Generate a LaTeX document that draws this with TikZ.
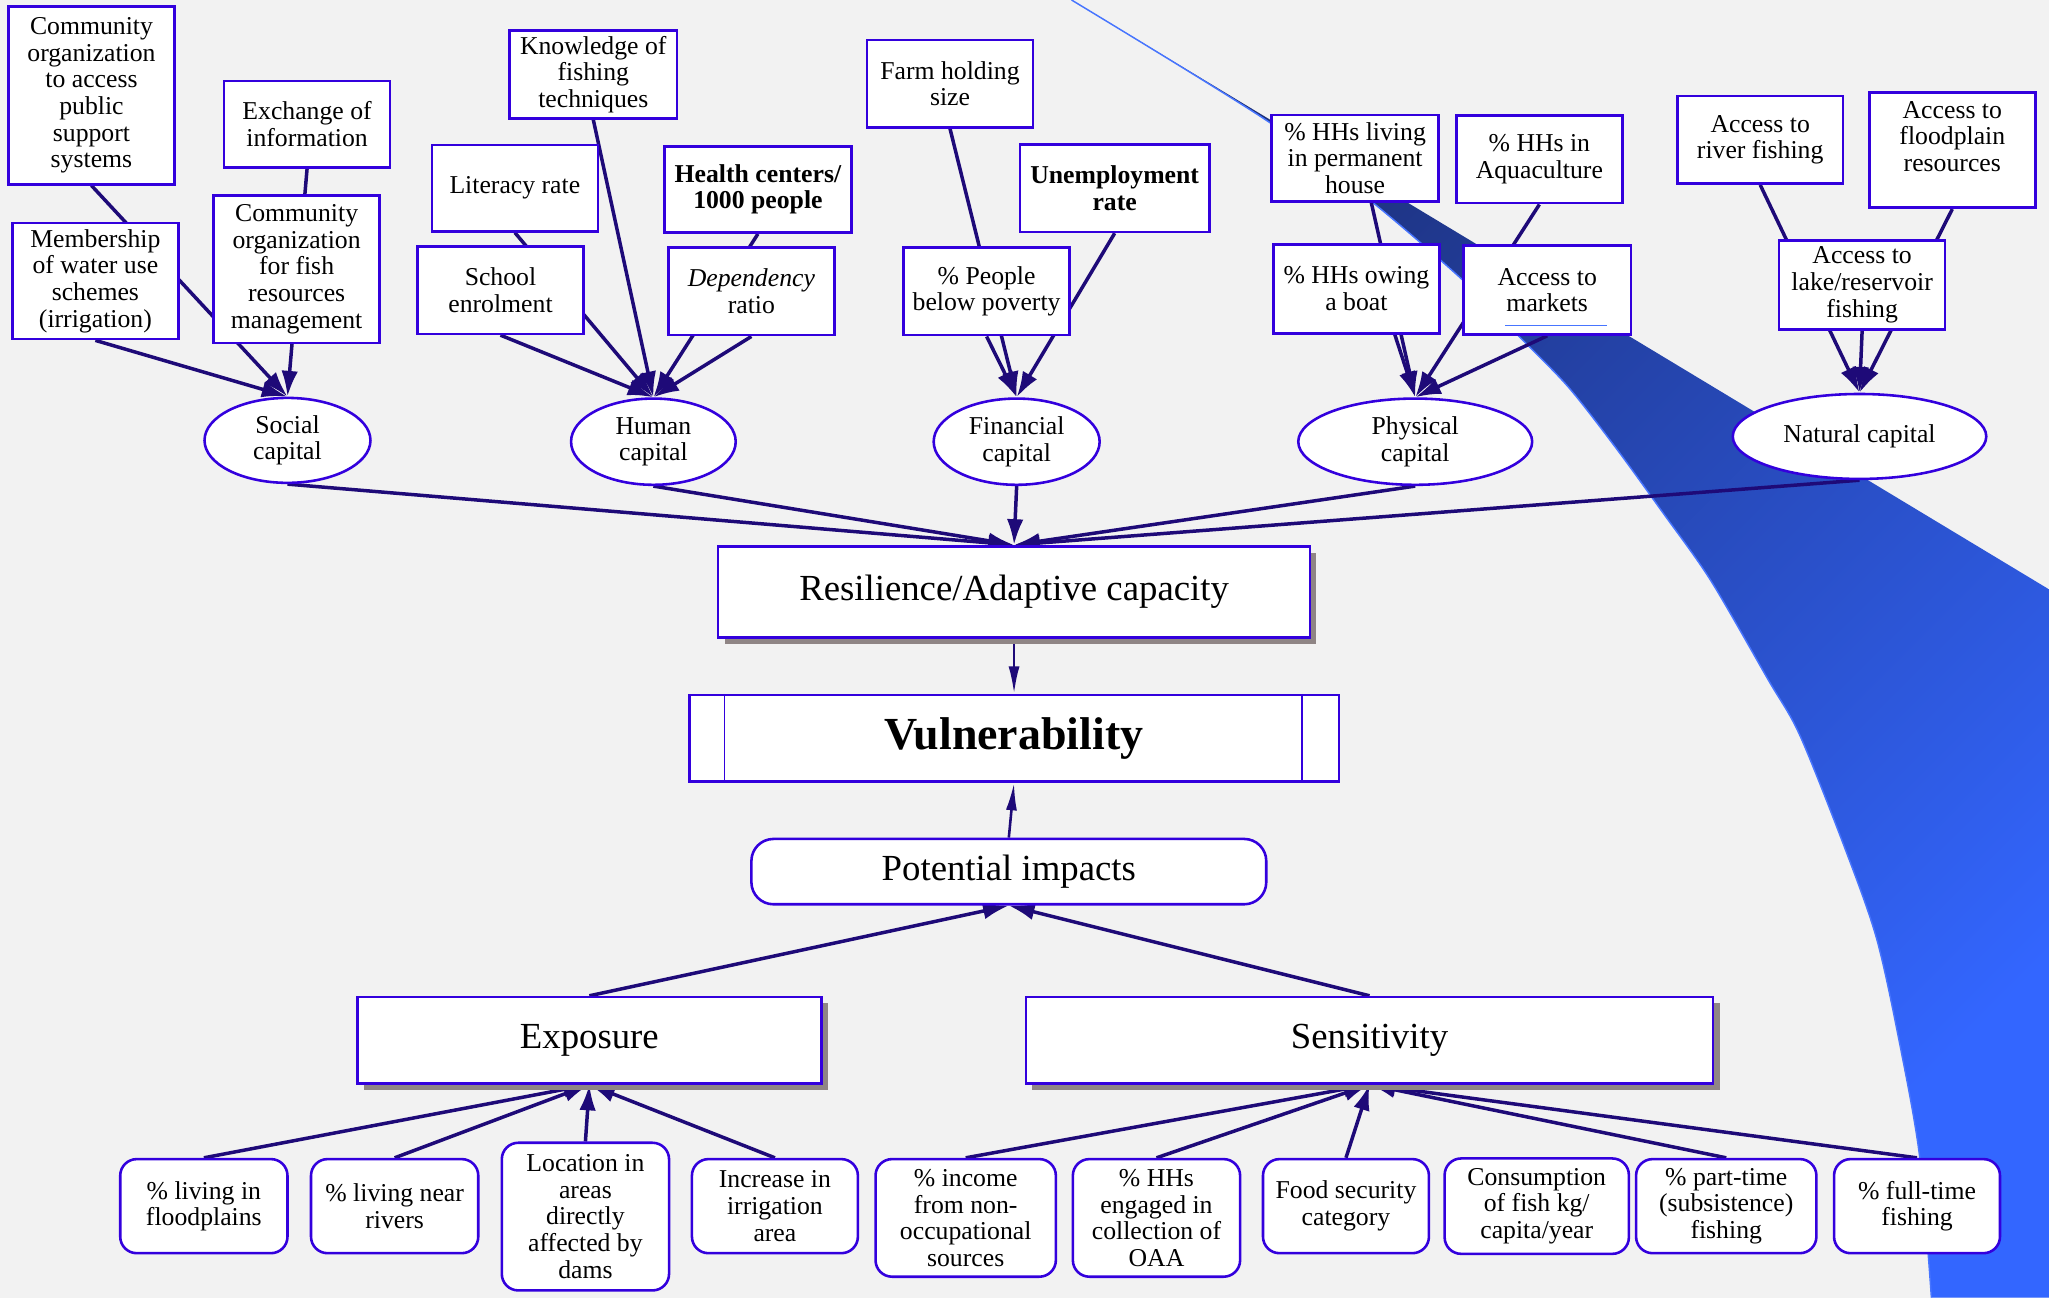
\documentclass[tikz,border=0pt]{standalone}
\usepackage{fontspec}
\setmainfont{Liberation Serif}
\usetikzlibrary{arrows.meta,shapes.geometric,shadows}
\tikzset{>=latex}
\definecolor{bgcol}{HTML}{F2F2F2}
\definecolor{boxcol}{HTML}{3300DD}
\definecolor{linkcol}{HTML}{1E0A78}
\definecolor{shadowcol}{HTML}{8F8585}
\definecolor{swdark}{HTML}{1C2F78}
\definecolor{swlight}{HTML}{3366FF}
\colorlet{swedgecol}{swlight!90!white}
\pgfdeclarelayer{background}
\pgfsetlayers{background,main}
\tikzset{
  sz/.style 2 args={minimum width=#1*0.025cm,minimum height=#2*0.025cm},
  ind/.style={draw=boxcol,line width=1.4pt,fill=white,inner sep=1pt,align=center,
              font=\fontsize{14}{14.5}\selectfont},
  indr/.style={ind,rounded corners=9pt},
  capital/.style={ind,ellipse,inner sep=0pt},
  core/.style={draw=boxcol,line width=1.4pt,fill=white,align=center,
               font=\fontsize{20}{24}\selectfont},
  coresh/.style={core,drop shadow={shadow xshift=3.5pt,shadow yshift=-3.5pt,
                 fill=shadowcol,opacity=1}},
  link/.style={linkcol,line width=1.9pt,-{Latex[length=14pt,width=9pt]}},
  thinlink/.style={linkcol,line width=1.4pt,-{Latex[length=15pt,width=6pt]}},
  swedge/.style={swedgecol,line width=0.8pt}
}

\begin{document}
\begin{tikzpicture}[x=0.025cm,y=-0.025cm]
  \useasboundingbox (0,0) rectangle (1568,993);

  % SOCIAL CAPITAL
  \node[ind,sz={127}{136}] (a1) at (70,73) {Community\\organization\\to access\\public\\support\\systems};
  \node[ind,sz={127}{66}] (a2) at (235,95) {Exchange of\\information};
  \node[ind,sz={127}{89}] (a3) at (73,215) {Membership\\of water use\\schemes\\(irrigation)};
  \node[ind,sz={127}{113}] (a4) at (227,206) {Community\\organization\\for fish\\resources\\management};
  \node[capital,sz={127}{65}] (soc) at (220,337) {Social\\capital};

  % HUMAN CAPITAL
  \node[ind,sz={128}{67}] (b1) at (454,57) {Knowledge of\\fishing\\techniques};
  \node[ind,sz={127}{66}] (b2) at (394,144) {Literacy rate};
  \node[ind,sz={143}{66},font=\fontsize{14}{14.5}\selectfont\bfseries] (b3) at (580,145) {Health centers/\\1000 people};
  \node[ind,sz={127}{67}] (b4) at (383,222) {School\\enrolment};
  \node[ind,sz={127}{67}] (b5) at (575,223) {\textit{Dependency}\\ratio};
  \node[capital,sz={126}{66}] (hum) at (500,338) {Human\\capital};

  % FINANCIAL CAPITAL
  \node[ind,sz={127}{67}] (c1) at (727,64) {Farm holding\\size};
  \node[ind,sz={145}{67},font=\fontsize{14}{14.5}\selectfont\bfseries] (c2) at (853,144) {Unemployment\\rate};
  \node[ind,sz={127}{67}] (c3) at (755,223) {\% People\\below poverty};
  \node[capital,sz={127}{66}] (fin) at (778,338) {Financial\\capital};

  % PHYSICAL CAPITAL
  \node[ind,sz={128}{66}] (d1) at (1037,121) {\% HHs living\\in permanent\\house};
  \node[ind,sz={127}{67}] (d2) at (1178,122) {\% HHs in\\Aquaculture};
  \node[ind,sz={127}{68}] (d3) at (1038,221) {\% HHs owing\\a boat};
  \node[ind,sz={128}{68}] (d4) at (1184,222) {Access to\\markets};
  \node[capital,sz={179}{66}] (phy) at (1083,338) {Physical\\capital};
  \draw[swedge] ([shift={(-32,-8)}]d4.south) -- ([shift={(46,-8)}]d4.south);

  % NATURAL CAPITAL
  \node[ind,sz={127}{67}] (e1) at (1347,107) {Access to\\river fishing};
  \node[ind,sz={127}{88},text depth=15pt] (e2) at (1494,115) {Access to\\floodplain\\resources};
  \node[ind,sz={127}{68}] (e3) at (1425,218) {Access to\\lake/reservoir\\fishing};
  \node[capital,sz={194}{65}] (nat) at (1423,334) {Natural capital};

  % CORE
  \node[coresh,sz={453}{70}] (res) at (776,453) {Resilience/Adaptive capacity};
  \node[core,sz={497}{66},font=\fontsize{25}{28}\selectfont\bfseries] (vul) at (776,565) {Vulnerability};
  \draw[boxcol,line width=0.8pt] ([xshift=28*0.025cm]vul.north west) -- ([xshift=28*0.025cm]vul.south west);
  \draw[boxcol,line width=0.8pt] ([xshift=-29*0.025cm]vul.north east) -- ([xshift=-29*0.025cm]vul.south east);
  \node[core,rounded corners=12pt,sz={394}{50}] (pot) at (772,667) {Potential impacts};
  \node[coresh,sz={355}{66}] (exp) at (451,796) {Exposure};
  \node[coresh,sz={526}{66}] (sen) at (1048,796) {Sensitivity};

  % EXPOSURE INDICATORS
  \node[indr,sz={128}{72}] (f1) at (156,923) {\% living in\\floodplains};
  \node[indr,sz={128}{72}] (f2) at (302,923) {\% living near\\rivers};
  \node[indr,sz={128}{113}] (f3) at (448,931) {Location in\\areas\\directly\\affected by\\dams};
  \node[indr,sz={127}{72}] (f4) at (593,923) {Increase in\\irrigation\\area};

  % SENSITIVITY INDICATORS
  \node[indr,sz={138}{90}] (g1) at (739,932) {\% income\\from non-\\occupational\\sources};
  \node[indr,sz={128}{90}] (g2) at (885,932) {\% HHs\\engaged in\\collection of\\OAA};
  \node[indr,sz={127}{72}] (g3) at (1030,923) {Food security\\category};
  \node[indr,sz={141}{73}] (g4) at (1176,923) {Consumption\\of fish kg/\\capita/year};
  \node[indr,sz={138}{72}] (g5) at (1321,923) {\% part-time\\(subsistence)\\fishing};
  \node[indr,sz={127}{72}] (g6) at (1467,923) {\% full-time\\fishing};

  \begin{pgfonlayer}{background}
    % BACKGROUND AND SWOOSH
    \fill[bgcol] (0,0) rectangle (1568,993);
    \begin{scope}
      \clip (0,0) rectangle (1568,993);
      \shade[top color=swdark,bottom color=swlight,shading angle=45]
        (820,0) -- (1568,451) -- (1568,993) -- (1478,993)
        -- plot[smooth] coordinates {(1478,993) (1469,885) (1454,800) (1436,718) (1411,647)
           (1377,562) (1353,520) (1309,444) (1273,393) (1236,342) (1200,296) (1163,258)
           (1119,214) (1053,157) (972,94) (820,0)} -- cycle;
      \draw[swedge] plot[smooth] coordinates {(820,0) (972,94) (1053,157) (1119,214)
           (1163,258) (1200,296) (1236,342) (1273,393) (1309,444) (1353,520) (1377,562)
           (1411,647) (1436,718) (1454,800) (1469,885) (1478,993)};
    \end{scope}

    % LINKS TO THE CAPITALS
    \foreach \src in {a1,a2,a3}
      \draw[link] (\src.south) -- (soc.north);
    \foreach \src in {b1,b2,b3,b4,b5}
      \draw[link] (\src.south) -- (hum.north);
    \foreach \src in {c1,c2,c3}
      \draw[link] (\src.south) -- (fin.north);
    \draw[link] (d1.-70) -- (phy.north);
    \draw[link] (d3.-50) -- (phy.north);
    \foreach \src in {d2,d4}
      \draw[link] (\src.south) -- (phy.north);
    \foreach \src in {e1,e2,e3}
      \draw[link] (\src.south) -- (nat.north);

    % CAPITALS TO RESILIENCE
    \foreach \src in {soc,hum,fin,phy,nat}
      \draw[link] (\src.south) -- (res.north);

    % CORE LINKS
    \draw[thinlink] (res.south) -- (vul.north);
    \draw[thinlink] (pot.north) -- (vul.south);
    \draw[link] (exp.north) -- (pot.south);
    \draw[link] (sen.north) -- (pot.south);

    % INDICATORS TO EXPOSURE AND SENSITIVITY
    \foreach \src in {f1,f2,f3,f4}
      \draw[link] (\src.north) -- (exp.south);
    \foreach \src in {g1,g2,g3,g5,g6}
      \draw[link] (\src.north) -- (sen.south);
  \end{pgfonlayer}
\end{tikzpicture}
\end{document}
